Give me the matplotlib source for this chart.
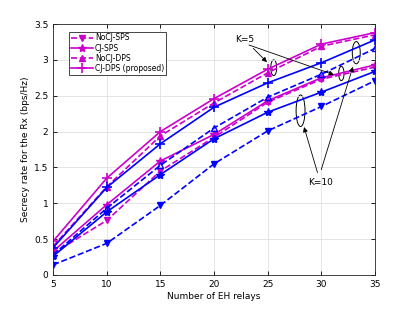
import numpy as np
import matplotlib.pyplot as plt
from matplotlib.patches import Ellipse

relays = [5, 10, 15, 20, 25, 30, 35]

# magenta group
nocj_sps_m = [0.30, 0.76, 1.45, 1.92, 2.41, 2.73, 2.90]
cj_sps_m = [0.33, 0.98, 1.59, 1.96, 2.43, 2.75, 2.93]
nocj_dps_m = [0.40, 1.23, 1.94, 2.40, 2.82, 3.19, 3.35]
cj_dps_m = [0.47, 1.35, 2.00, 2.46, 2.87, 3.22, 3.38]

# blue group
nocj_sps_b = [0.14, 0.44, 0.97, 1.55, 2.01, 2.35, 2.71]
cj_sps_b = [0.26, 0.88, 1.40, 1.90, 2.27, 2.55, 2.84]
nocj_dps_b = [0.28, 0.93, 1.53, 2.05, 2.48, 2.80, 3.16]
cj_dps_b = [0.38, 1.22, 1.83, 2.34, 2.68, 2.96, 3.28]

mag = '#cc00cc'
blu = '#0000ff'

fig = plt.figure(figsize=(4.15, 3.12), dpi=100)
ax = fig.add_axes([0.128, 0.119, 0.776, 0.804])

ms = 4.5
lw = 1.2
ax.plot(relays, nocj_sps_m, '--v', c=mag, lw=lw, ms=ms, label='NoCJ-SPS')
ax.plot(relays, cj_sps_m, '-*', c=mag, lw=lw, ms=ms + 1.5, label='CJ-SPS')
ax.plot(relays, nocj_dps_m, '--^', c=mag, lw=lw, ms=ms, label='NoCJ-DPS')
ax.plot(relays, cj_dps_m, '-+', c=mag, lw=lw, ms=ms + 2, mew=1.2, label='CJ-DPS (proposed)')

ax.plot(relays, nocj_sps_b, '--v', c=blu, lw=lw, ms=ms)
ax.plot(relays, cj_sps_b, '-*', c=blu, lw=lw, ms=ms + 1.5)
ax.plot(relays, nocj_dps_b, '--^', c=blu, lw=lw, ms=ms, mfc='none')
ax.plot(relays, cj_dps_b, '-+', c=blu, lw=lw, ms=ms + 2, mew=1.2)

ax.set_xlim(5, 35)
ax.set_ylim(0, 3.5)
ax.set_xticks(relays)
ax.set_yticks(np.arange(0, 3.6, 0.5))
ax.set_yticklabels(['0', '0.5', '1', '1.5', '2', '2.5', '3', '3.5'])
ax.tick_params(direction='in', top=True, right=True, labelsize=6.5, length=3, width=0.6)
ax.grid(True, color='#e0e0e0', lw=0.6)
for s in ax.spines.values():
    s.set_linewidth(0.6)
    s.set_color('#262626')

ax.set_xlabel('Number of EH relays', fontsize=6.5, labelpad=2)
ax.set_ylabel('Secrecy rate for the Rx (bps/Hz)', fontsize=6.5, labelpad=3)

leg = ax.legend(loc='upper left', bbox_to_anchor=(0.05, 0.97), fontsize=5.5,
                fancybox=False, edgecolor='#262626', framealpha=1,
                handlelength=2.8, borderpad=0.25, labelspacing=0.15, handletextpad=0.3,
                borderaxespad=0)
leg.get_frame().set_linewidth(0.6)

# ellipses around curve pairs
for cx, cy, w, h in [(25.55, 2.89, 0.55, 0.22), (31.85, 2.81, 0.5, 0.2),
                     (28.05, 2.29, 0.83, 0.44), (33.24, 3.10, 0.74, 0.31)]:
    ax.add_patch(Ellipse((cx, cy), w, h, fill=False, ec='black', lw=0.7))

arr = dict(arrowstyle='-|>', color='black', lw=0.6, mutation_scale=7)
ax.annotate('K=5', xy=(25.1, 2.94), xytext=(22.8, 3.29), fontsize=6.5,
            ha='center', va='center', arrowprops=arr)
ax.annotate('', xy=(31.4, 2.78), xytext=(23.0, 3.22), arrowprops=arr)
ax.annotate('K=10', xy=(28.3, 2.10), xytext=(29.9, 1.29), fontsize=6.5,
            ha='center', va='center', arrowprops=arr)
ax.annotate('', xy=(33.0, 2.94), xytext=(29.9, 1.43), arrowprops=arr)

fig.savefig('out.png', dpi=100)
